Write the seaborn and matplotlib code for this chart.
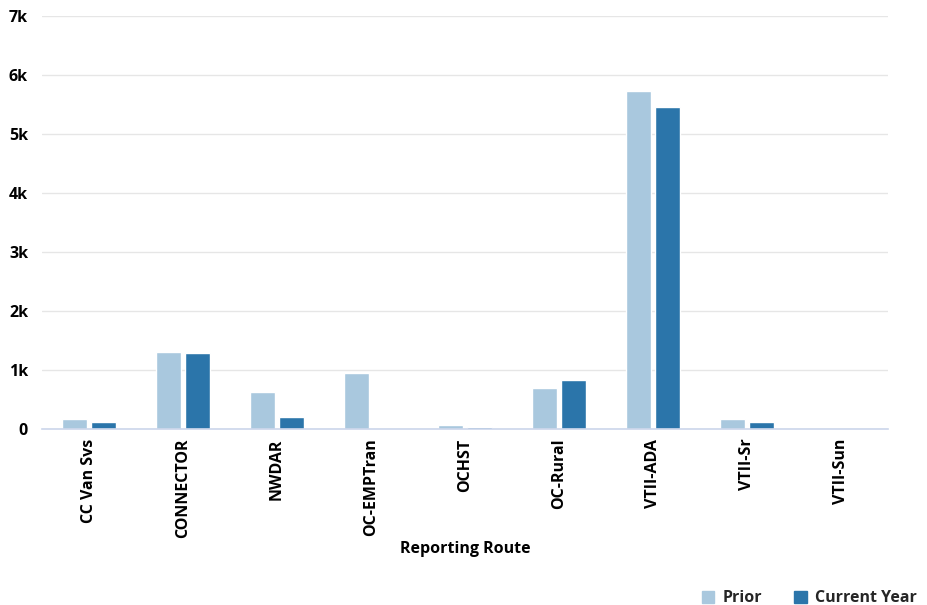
import pandas as pd
import seaborn as sns
import matplotlib.pyplot as plt
from matplotlib.ticker import FuncFormatter

# values
routes = ['CC Van Svs', 'CONNECTOR', 'NWDAR', 'OC-EMPTran', 'OCHST',
          'OC-Rural', 'VTII-ADA', 'VTII-Sr', 'VTII-Sun']
prior = [165, 1300, 630, 950, 62, 690, 5730, 165, 0]
current_year = [125, 1285, 200, 0, 28, 830, 5460, 125, 0]
series_names = ['Prior', 'Current Year']
colors = ['#a9c8de', '#2b75aa']

df = pd.DataFrame({'route': routes, 'Prior': prior, 'Current Year': current_year})
long_df = df.melt(id_vars='route', var_name='series', value_name='value')

sns.set_theme(style='white')
plt.rcParams['font.family'] = ['Open Sans', 'DejaVu Sans']
plt.rcParams['font.weight'] = 'bold'

fig = plt.figure(figsize=(9.27, 6.05), dpi=100)
ax = fig.add_axes([42 / 927, 1 - 429 / 605, 846 / 927, 413 / 605])

sns.barplot(data=long_df, x='route', y='value', hue='series', order=routes,
            hue_order=series_names, palette=colors, width=0.62, gap=0.12,
            edgecolor='white', linewidth=1, saturation=1, ax=ax)

ax.set_ylim(0, 7000)
ax.set_yticks(range(0, 7001, 1000))
ax.yaxis.set_major_formatter(FuncFormatter(lambda v, p: '0' if v == 0 else f'{int(v / 1000)}k'))
ax.grid(axis='y', color='#e6e6e6', linewidth=1)
ax.set_axisbelow(True)
for side in ['top', 'right', 'left']:
    ax.spines[side].set_visible(False)
ax.spines['bottom'].set_color('#ccd6eb')
ax.spines['bottom'].set_linewidth(1.2)

ax.tick_params(axis='y', length=0, pad=10, labelsize=11.5, labelcolor='black')
ax.tick_params(axis='x', length=0, pad=7, labelsize=11.5, labelcolor='black')
for lab in ax.get_yticklabels():
    lab.set_fontweight('bold')
for lab in ax.get_xticklabels():
    lab.set_rotation(90)
    lab.set_fontweight('bold')
    lab.set_verticalalignment('top')
    lab.set_horizontalalignment('center')

ax.set_xlabel('Reporting Route', fontsize=11.5, fontweight='bold', color='black', labelpad=2)
ax.set_ylabel('')

ax.get_legend().remove()
handles = [plt.Rectangle((0, 0), 1, 1, color=c) for c in colors]
fig.legend(handles, series_names, loc='lower right', bbox_to_anchor=(0.999, -0.018),
           ncol=2, frameon=False, handlelength=0.8, handleheight=0.8,
           handletextpad=0.5, columnspacing=2.0, borderaxespad=0.2,
           prop={'weight': 'bold', 'size': 11.5})

fig.savefig('out.png', dpi=100)
